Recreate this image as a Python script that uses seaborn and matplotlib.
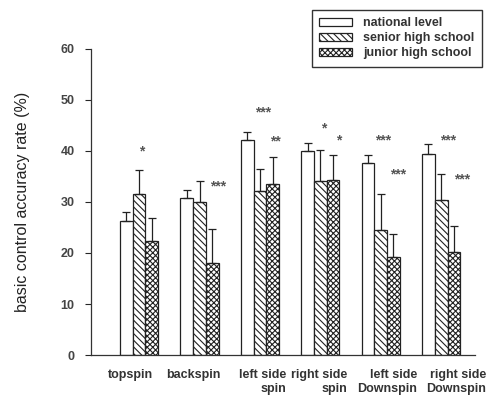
import numpy as np
import pandas as pd
import matplotlib
matplotlib.use("Agg")
import matplotlib.pyplot as plt
from matplotlib.patches import Patch
import seaborn as sns

sns.set_style("white")
plt.rcParams['font.family'] = ['Liberation Sans', 'DejaVu Sans']
plt.rcParams['hatch.linewidth'] = 0.8

categories = ["topspin", "backspin", "left side\nspin", "right side\nspin",
              "left side\nDownspin", "right side\nDownspin"]
groups = ["national level", "senior high school", "junior high school"]

national = [26.3, 30.7, 42.1, 40.0, 37.7, 39.5]
national_top = [28.1, 32.3, 43.7, 41.5, 39.3, 41.4]
senior = [31.6, 29.9, 32.2, 34.1, 24.5, 30.3]
senior_top = [36.2, 34.1, 36.5, 40.1, 31.5, 35.4]
junior = [22.4, 18.1, 33.6, 34.3, 19.3, 20.2]
junior_top = [26.8, 24.8, 38.9, 39.2, 23.7, 25.2]

# significance marks: (category index, label, y value)
stars = [(0, "*", 40.0), (1, "***", 33.0), (2, "***", 47.5), (2, "**", 41.8),
         (3, "*", 44.5), (3, "*", 42.0), (4, "***", 42.0), (4, "***", 35.3),
         (5, "***", 42.0), (5, "***", 34.4)]
star_dx = [0.05, 0.31, 0.05, 0.25, 0.05, 0.31, 0.04, 0.29, 0.12, 0.35]
# label block centres are not quite under the groups in the original
label_dx = [-0.15, -0.11, 0.04, -0.02, 0.10, 0.25]

df = pd.DataFrame({
    "type": categories * 3,
    "group": np.repeat(groups, len(categories)),
    "rate": national + senior + junior,
})

fig = plt.figure(figsize=(4.95, 3.98), dpi=100)
ax = fig.add_axes([0.184, 0.108, 0.776, 0.769])

sns.barplot(data=df, x="type", y="rate", hue="group", ax=ax,
            palette=["white"] * 3, edgecolor="#222222", linewidth=0.9,
            width=0.63, gap=0, legend=False, errorbar=None)

hatches = ["", "\\\\\\\\\\", "xxxxxx"]
tops = [national_top, senior_top, junior_top]
means = [national, senior, junior]
for cont, h, top, m in zip(ax.containers, hatches, tops, means):
    xs = []
    for p in cont.patches:
        p.set_hatch(h)
        xs.append(p.get_x() + p.get_width() / 2)
    err = np.array(top) - np.array(m)
    ax.errorbar(xs, m, yerr=[np.zeros(len(m)), err], fmt="none",
                ecolor="#222222", elinewidth=0.9, capsize=3, capthick=0.9)

for (i, lab, y), dx in zip(stars, star_dx):
    ax.text(i + dx, y, lab, ha="center", va="center", fontsize=10,
            fontweight="bold", color="#555555")

ax.set_xlim(-0.795, 5.563)
ax.set_ylim(0, 60)
ax.set_yticks(range(0, 61, 10))
ax.tick_params(axis="y", direction="out", length=4, width=0.8, left=True,
               labelsize=9, labelcolor="#444444", pad=8)
for t in ax.get_yticklabels():
    t.set_fontweight("bold")
ax.set_xticks([i - 0.315 for i in range(6)])
ax.set_xticklabels([])
ax.tick_params(axis="x", which="major", direction="in", length=3, width=0.8,
               bottom=True)
ax.set_xticks([i + d for i, d in zip(range(6), label_dx)], minor=True)
ax.set_xticklabels(categories, minor=True, fontsize=9, color="#333333",
                   fontweight="bold", multialignment="right")
ax.tick_params(axis="x", which="minor", length=0, pad=10)
for s in ["top", "right"]:
    ax.spines[s].set_visible(False)
for s in ["left", "bottom"]:
    ax.spines[s].set_color("#333333")
    ax.spines[s].set_linewidth(0.9)
ax.set_xlabel("")
ax.set_ylabel("basic control accuracy rate (%)", fontsize=11.5,
              color="#222222", labelpad=22)

handles = [Patch(facecolor="white", edgecolor="#222222", hatch=h, linewidth=0.9)
           for h in hatches]
leg = fig.legend(handles, groups, loc="upper right",
                 bbox_to_anchor=(0.978, 0.982), fontsize=9, frameon=True,
                 fancybox=False, edgecolor="#333333", handlelength=2.6,
                 handleheight=0.55, handletextpad=0.9, labelspacing=0.25,
                 borderpad=0.6, borderaxespad=0.2, framealpha=1)
for t in leg.get_texts():
    t.set_fontweight("bold")
    t.set_color("#333333")

fig.savefig("out.png", dpi=100)
